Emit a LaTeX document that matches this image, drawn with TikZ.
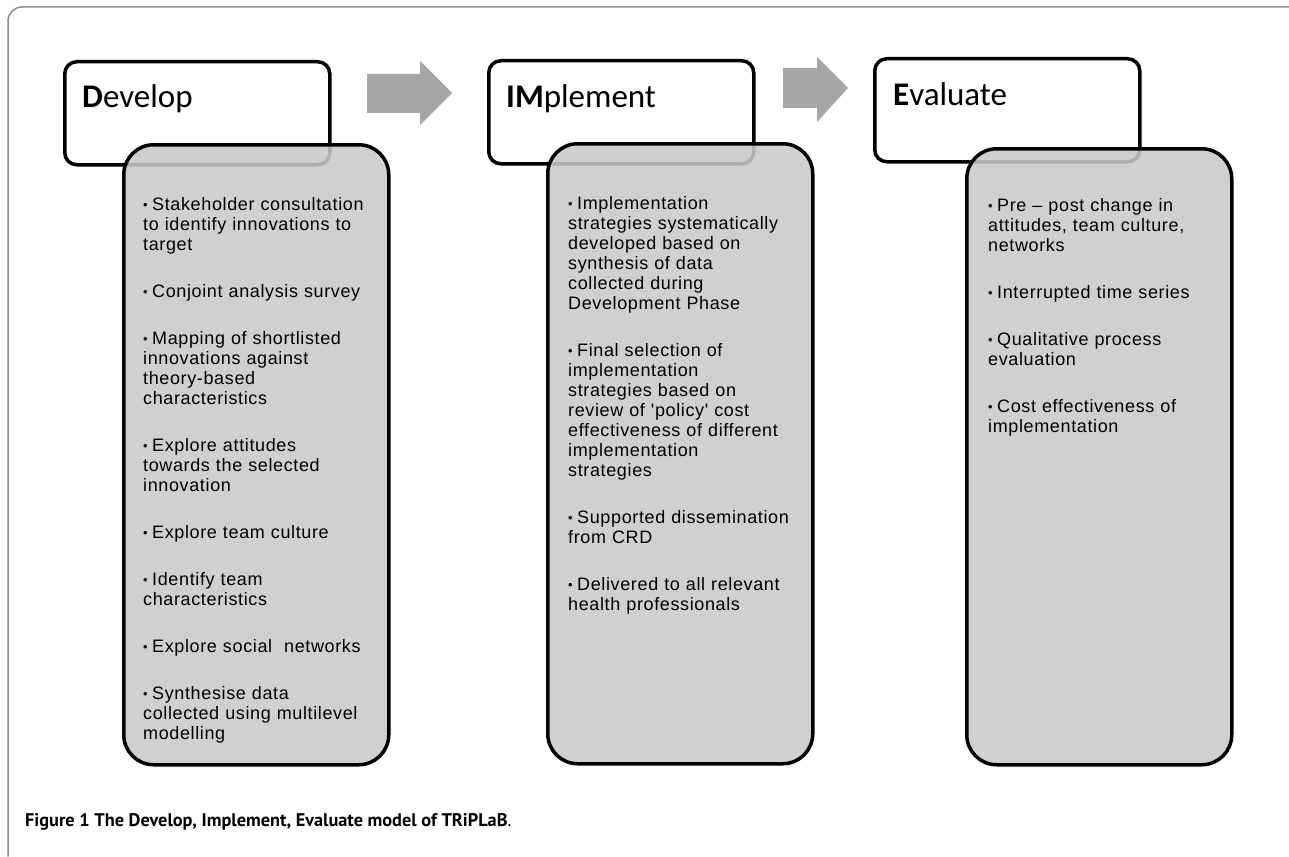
\documentclass[tikz,border=0pt]{standalone}
\usepackage{fontspec}
\setmainfont{Liberation Sans}
\newfontfamily\listfont{Liberation Sans}[LetterSpace=3.5]
\newfontfamily\headfont{Carlito}
\newfontfamily\capfont{PT Sans}
\definecolor{boxgray}{RGB}{201,201,201}
\definecolor{arrowgray}{RGB}{166,166,166}
\definecolor{framegray}{RGB}{140,140,140}
% one bullet point of a phase box
\newcommand{\bul}[1]{\par\noindent\hangindent=9pt\hangafter=1%
  \makebox[9pt][l]{\raisebox{1pt}{\fontsize{13}{13}\selectfont\textbullet}}\strut#1\par\vskip27pt}
\begin{document}
\begin{tikzpicture}[x=1pt, y=-1pt, line join=round, line cap=round]
	\tikzset{headbox/.style={draw, line width=3.5pt, rounded corners=12pt, fill=white, anchor=north west, minimum width=265pt, minimum height=103pt, inner sep=0pt},
		bodybox/.style={draw, line width=3.5pt, rounded corners=30pt, fill=boxgray, fill opacity=0.875, anchor=north west, minimum width=265pt, minimum height=620pt, inner sep=0pt},
		headtext/.style={anchor=base west, inner sep=0pt, font=\headfont\fontsize{33}{36}\selectfont},
		bodytext/.style={anchor=north west, inner sep=0pt, text width=236pt, align=left, font=\listfont\fontsize{18}{20}\selectfont},
		blockarrow/.style={fill=arrowgray}}
	\useasboundingbox (0,0) rectangle (1289,856);
	\draw[framegray, line width=1.5pt, rounded corners=14pt] (8,856) -- (8,7) -- (1289,7);
	% Develop
	\node[headbox] (devhead) at (63,60) {};
	\node[headtext] (devtitle) at ([shift={(19,48)}]devhead.north west) {\textbf{D}evelop};
	\node[bodybox] (devbody) at (122,143) {};
	\node[bodytext] (devlist) at ([shift={(21,47)}]devbody.north west) {%
		\bul{Stakeholder consultation\\ to identify innovations to\\ target}
		\bul{Conjoint analysis survey}
		\bul{Mapping of shortlisted\\ innovations against\\ theory-based\\ characteristics}
		\bul{Explore attitudes\\ towards the selected\\ innovation}
		\bul{Explore team culture}
		\bul{Identify team\\ characteristics}
		\bul{Explore social\ \ networks}
		\bul{Synthesise data\\ collected using multilevel\\ modelling}};
	% Implement
	\node[headbox] (imphead) at (487,59) {};
	\node[headtext] (imptitle) at ([shift={(19,48)}]imphead.north west) {\textbf{IM}plement};
	\node[bodybox] (impbody) at (546,142) {};
	\node[bodytext] (implist) at ([shift={(22,47)}]impbody.north west) {%
		\bul{Implementation\\ strategies systematically\\ developed based on\\ synthesis of data\\ collected during\\ Development Phase}
		\bul{Final selection of\\ implementation\\ strategies based on\\ review of 'policy' cost\\ effectiveness of different\\ implementation\\ strategies}
		\bul{Supported dissemination\\ from CRD}
		\bul{Delivered to all relevant\\ health professionals}};
	% Evaluate
	\node[headbox] (evalhead) at (873,57) {};
	\node[headtext] (evaltitle) at ([shift={(20,49)}]evalhead.north west) {\textbf{E}valuate};
	\node[bodybox, minimum height=616pt] (evalbody) at (965,147) {};
	\node[bodytext] (evallist) at ([shift={(23,44)}]evalbody.north west) {%
		\bul{Pre – post change in\\ attitudes, team culture,\\ networks}
		\bul{Interrupted time series}
		\bul{Qualitative process\\ evaluation}
		\bul{Cost effectiveness of\\ implementation}};
	% arrows between the phases
	\fill[blockarrow] (367,74) -- (420,74) -- (420,61) -- (452,93) -- (420,125) -- (420,113) -- (367,113) -- cycle;
	\fill[blockarrow] (783,68) -- (817,68) -- (817,57) -- (848,88) -- (817,122) -- (817,108) -- (783,108) -- cycle;
	\node[anchor=base west, inner sep=0pt, font=\capfont\fontsize{18.3}{20}\selectfont] (caption) at (25,826) {\textbf{Figure 1 The Develop, Implement, Evaluate model of TRiPLaB}.};
\end{tikzpicture}
\end{document}
